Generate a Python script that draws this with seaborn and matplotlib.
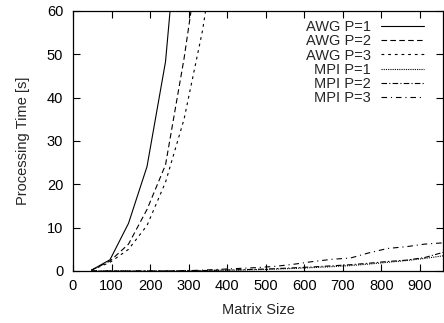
import numpy as np
import pandas as pd
import matplotlib
matplotlib.use("Agg")
import matplotlib.pyplot as plt
import seaborn as sns

# matrix sizes measured (step of 48)
awg_sizes = [48, 96, 144, 192, 240, 288, 336, 384]
mpi_sizes = [48, 96, 144, 192, 240, 288, 336, 384, 432, 480,
             528, 576, 624, 672, 720, 768, 816, 864, 912, 960]

awg_p1 = [0.2, 2.6, 11.0, 24.1, 48.3, 96.0]
awg_p2 = [0.2, 2.3, 6.2, 14.2, 24.5, 49.0, 78.0]
awg_p3 = [0.2, 2.0, 5.0, 10.5, 20.5, 35.0, 55.5, 83.0]

mpi_p1 = [0.0, 0.0, 0.0, 0.0, 0.0, 0.05, 0.1, 0.15, 0.2, 0.3,
          0.45, 0.6, 0.8, 1.0, 1.25, 1.6, 2.0, 2.4, 2.9, 3.5]
mpi_p2 = [0.0, 0.0, 0.0, 0.0, 0.0, 0.05, 0.1, 0.2, 0.3, 0.4,
          0.55, 0.75, 0.95, 1.2, 1.45, 1.8, 2.2, 2.5, 3.1, 4.3]
mpi_p3 = [0.0, 0.0, 0.0, 0.0, 0.0, 0.05, 0.2, 0.4, 0.6, 0.8,
          1.1, 1.6, 2.2, 2.7, 3.0, 4.2, 5.2, 5.6, 6.2, 6.5]

labels = ["AWG P=1", "AWG P=2", "AWG P=3", "MPI P=1", "MPI P=2", "MPI P=3"]
series = [(awg_sizes, awg_p1), (awg_sizes, awg_p2), (awg_sizes, awg_p3),
          (mpi_sizes, mpi_p1), (mpi_sizes, mpi_p2), (mpi_sizes, mpi_p3)]

rows = []
for lab, (xs, ys) in zip(labels, series):
    for x, y in zip(xs, ys):
        rows.append({"size": x, "time": y, "series": lab})
df = pd.DataFrame(rows)

dashes = {
    "AWG P=1": "",
    "AWG P=2": (5, 3),
    "AWG P=3": (2.5, 3.5),
    "MPI P=1": (1, 1),
    "MPI P=2": (5, 2, 1, 2),
    "MPI P=3": (5, 3.5, 1, 3.5),
}

sns.set_style("ticks")
plt.rcParams['font.family'] = ['Liberation Sans', 'DejaVu Sans']
fs = 10.5

fig = plt.figure(figsize=(4.44, 3.23), dpi=100)
ax = fig.add_axes([0.1644, 0.161, 0.8336, 0.805])

sns.lineplot(data=df, x="size", y="time", style="series", style_order=labels,
             dashes=dashes, color="black", linewidth=0.8, ax=ax, legend=True,
             sort=False)

ax.set_xlim(0, 960)
ax.set_ylim(0, 60)
ax.set_xticks(range(0, 901, 100))
ax.set_yticks(range(0, 61, 10))
ax.tick_params(direction="in", top=True, right=True, length=5, width=0.8,
               labelsize=fs, colors="black")
ax.tick_params(axis="y", pad=7)
ax.tick_params(axis="x", pad=6)
for s in ax.spines.values():
    s.set_linewidth(0.9)
    s.set_color("black")
ax.set_xlabel("Matrix Size", fontsize=fs, labelpad=7)
ax.set_ylabel("Processing Time [s]", fontsize=fs, labelpad=12)

handles, _ = ax.get_legend_handles_labels()
ax.legend(handles=handles[-6:], labels=labels, loc="upper right",
          bbox_to_anchor=(424 / 444, 1 - 20 / 323), bbox_transform=fig.transFigure,
          frameon=False, markerfirst=False, fontsize=fs, handlelength=2.95,
          labelspacing=0.02, handletextpad=0.7, borderaxespad=0, borderpad=0)

fig.savefig("out.png", dpi=100)
